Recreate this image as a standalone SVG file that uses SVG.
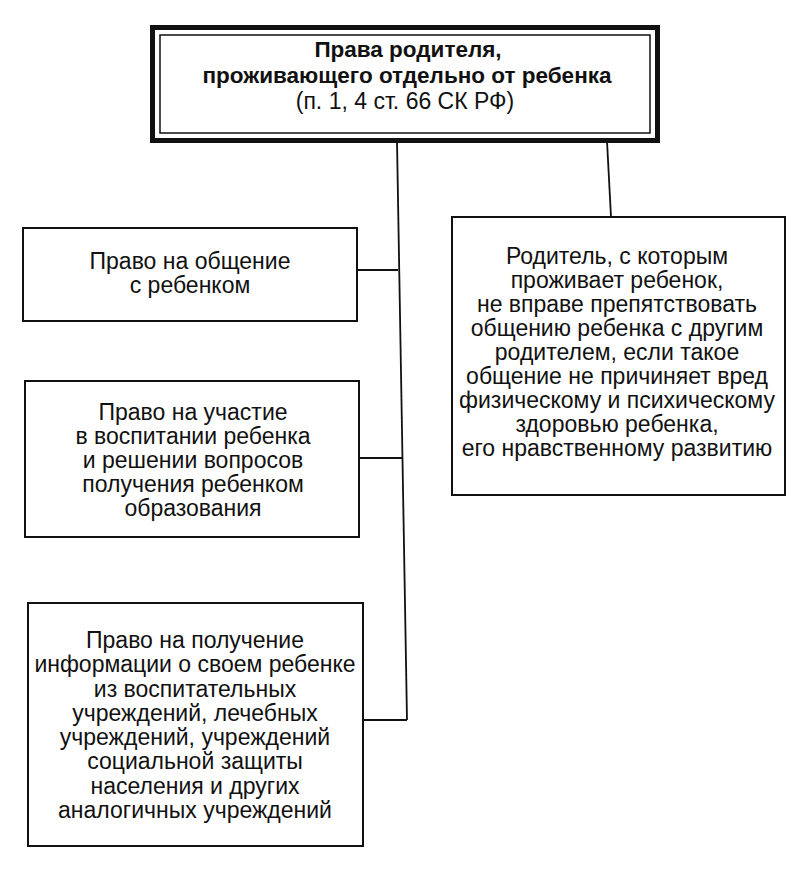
<svg xmlns="http://www.w3.org/2000/svg" width="800" height="873" viewBox="0 0 800 873">
<style>
.box{fill:#fff;stroke:#111;stroke-width:2}
.ln{stroke:#111;stroke-width:1.8;fill:none}
text{font-family:"Liberation Sans",Arial,sans-serif;font-size:23px;fill:#111;text-anchor:middle}
.b{font-weight:bold;font-size:22.5px}
</style>
<rect width="800" height="873" fill="#fff"/>
<g id="connectors">
<line class="ln" x1="397" y1="141" x2="407" y2="720"/>
<line class="ln" x1="607" y1="141" x2="611" y2="217"/>
<line class="ln" x1="357" y1="270" x2="398" y2="270"/>
<line class="ln" x1="359" y1="458" x2="402" y2="458"/>
<line class="ln" x1="363" y1="720" x2="407" y2="720"/>
</g>
<g id="root">
<rect x="152.5" y="27.5" width="505" height="113" fill="#fff" stroke="#111" stroke-width="5"/>
<rect x="160" y="35" width="490" height="98" fill="none" stroke="#111" stroke-width="1.5"/>
<text class="b" x="408" y="57">Права родителя,</text>
<text class="b" x="407" y="83">проживающего отдельно от ребенка</text>
<text x="405" y="109">(п. 1, 4 ст. 66 СК РФ)</text>
</g>
<g id="n1">
<rect class="box" x="23" y="228" width="334" height="93"/>
<text x="190" y="269">Право на общение</text>
<text x="190" y="293">с ребенком</text>
</g>
<g id="n2">
<rect class="box" x="25" y="381" width="334" height="156"/>
<text x="193" y="420">Право на участие</text>
<text x="193" y="444">в воспитании ребенка</text>
<text x="193" y="468">и решении вопросов</text>
<text x="193" y="492">получения ребенком</text>
<text x="193" y="516">образования</text>
</g>
<g id="n3">
<rect class="box" x="28" y="603" width="335" height="243"/>
<text x="195" y="648">Право на получение</text>
<text x="195" y="672">информации о своем ребенке</text>
<text x="195" y="697">из воспитательных</text>
<text x="195" y="721">учреждений, лечебных</text>
<text x="195" y="745">учреждений, учреждений</text>
<text x="195" y="769">социальной защиты</text>
<text x="195" y="794">населения и других</text>
<text x="195" y="818">аналогичных учреждений</text>
</g>
<g id="n4">
<rect class="box" x="452" y="217" width="333" height="278"/>
<text x="617" y="264">Родитель, с которым</text>
<text x="617" y="288">проживает ребенок,</text>
<text x="617" y="312">не вправе препятствовать</text>
<text x="617" y="336">общению ребенка с другим</text>
<text x="617" y="360">родителем, если такое</text>
<text x="617" y="384">общение не причиняет вред</text>
<text x="617" y="408">физическому и психическому</text>
<text x="617" y="432">здоровью ребенка,</text>
<text x="617" y="456">его нравственному развитию</text>
</g>
</svg>
